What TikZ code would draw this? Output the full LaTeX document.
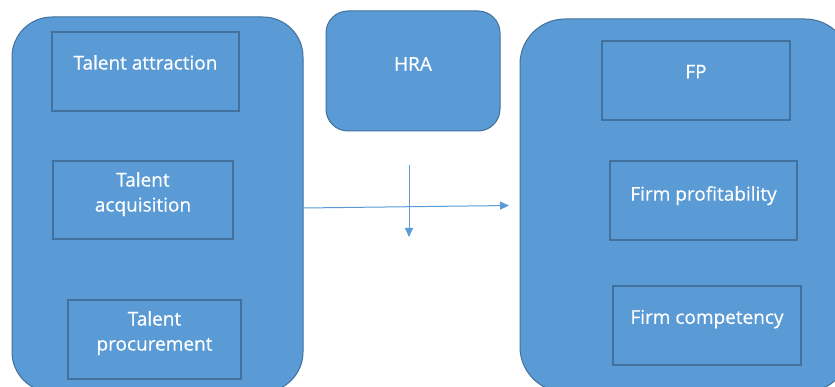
\documentclass[tikz,border=0pt]{standalone}
\usepackage{fontspec}
\newfontfamily\txtfont{Open Sans}[FakeBold=0.4]
\usetikzlibrary{arrows.meta}
\definecolor{fillblue}{RGB}{91,155,213}
\definecolor{lineblue}{RGB}{65,113,156}
\tikzset{
  bigbox/.style={draw=lineblue, line width=1pt, fill=fillblue, rounded corners=40pt},
  hrabox/.style={draw=lineblue, line width=1pt, fill=fillblue, rounded corners=22pt},
  inbox/.style={draw=lineblue, line width=1.4pt, fill=fillblue},
  txt/.style={text=white, font=\txtfont\fontsize{19}{25}\selectfont, align=center, inner sep=0pt, anchor=north},
  conn/.style={draw=fillblue, line width=1pt, -{Triangle[length=9pt,width=8pt]}}
}
\begin{document}
\begin{tikzpicture}[x=1pt,y=-1pt]
\clip (0,0) rectangle (835,387);
\fill[white] (0,0) rectangle (835,387);
% outer containers
\node[bigbox, minimum width=291pt, minimum height=375pt] (left) at (157.5,204.5) {};
\node[bigbox, rounded corners=45pt, minimum width=330pt, minimum height=373pt] (right) at (685,205.5) {};
\node[hrabox, minimum width=174pt, minimum height=120pt,
      label={[txt, yshift=-46.4pt]north:HRA}] (hra) at (413,71) {};
% left inner boxes
\node[inbox, minimum width=187pt, minimum height=79pt,
      label={[txt, yshift=-23.6pt]north:Talent attraction}] (attr) at (145.5,71.5) {};
\node[inbox, minimum width=180pt, minimum height=78pt,
      label={[txt, yshift=-11.6pt]north:Talent\\acquisition}] (acq) at (143,200) {};
\node[inbox, minimum width=173pt, minimum height=79pt,
      label={[txt, yshift=-11.6pt]north:Talent\\procurement}] (proc) at (154.5,339.5) {};
% right inner boxes
\node[inbox, minimum width=188pt, minimum height=79pt,
      label={[txt, yshift=-24.4pt]north:FP}] (fp) at (696,80.5) {};
\node[inbox, minimum width=187pt, minimum height=79pt,
      label={[txt, yshift=-25.6pt]north:Firm profitability}] (prof) at (703.5,200.5) {};
\node[inbox, minimum width=188pt, minimum height=79pt,
      label={[txt, yshift=-24.4pt]north:Firm competency}] (comp) at (707,325.5) {};
% connectors
\coordinate (hstart) at (303,208);
\coordinate (hend) at (509,205.5);
\coordinate (vstart) at (409,165);
\coordinate (vend) at (409,237);
\draw[conn] (hstart) -- (hend);
\draw[conn] (vstart) -- (vend);
\end{tikzpicture}
\end{document}
